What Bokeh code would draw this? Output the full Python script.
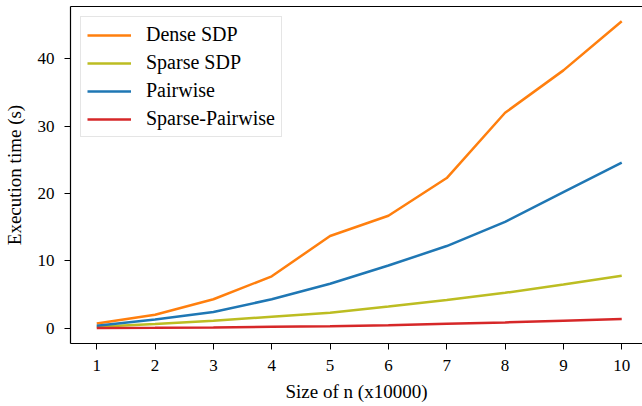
from bokeh.plotting import figure
from bokeh.models import Range1d, FixedTicker, LinearAxis, Legend, LegendItem
from bokeh.embed import file_html
from bokeh.resources import INLINE

sizes = [1, 2, 3, 4, 5, 6, 7, 8, 9, 10]
dense_sdp = [0.7, 2.0, 4.3, 7.7, 13.7, 16.7, 22.3, 32.0, 38.3, 45.6]
sparse_sdp = [0.2, 0.6, 1.1, 1.7, 2.3, 3.2, 4.2, 5.25, 6.5, 7.8]
pairwise = [0.35, 1.3, 2.4, 4.3, 6.6, 9.3, 12.2, 15.8, 20.2, 24.6]
sparse_pairwise = [0.02, 0.05, 0.1, 0.2, 0.3, 0.45, 0.65, 0.85, 1.1, 1.35]

series = [
    ("Dense SDP", dense_sdp, "#ff7f0e"),
    ("Sparse SDP", sparse_sdp, "#bcbd22"),
    ("Pairwise", pairwise, "#1f77b4"),
    ("Sparse-Pairwise", sparse_pairwise, "#d62728"),
]

FONT = "Liberation Serif"

p = figure(frame_width=572, frame_height=337, output_backend="svg", toolbar_location=None,
           x_range=Range1d(0.55, 10.356), y_range=Range1d(-2.28, 47.79),
           min_border_left=70, min_border_right=0, min_border_top=6, min_border_bottom=0)
p.outline_line_color = None
p.xgrid.visible = False
p.ygrid.visible = False

items = []
for name, vals, color in series:
    r = p.line(sizes, vals, line_color=color, line_width=2.5)
    items.append(LegendItem(label=name, renderers=[r]))

for ax in (p.xaxis[0], p.yaxis[0]):
    ax.axis_line_color = "black"
    ax.axis_line_width = 1.2
    ax.major_tick_line_color = "black"
    ax.major_tick_out = 6
    ax.major_tick_in = 0
    ax.minor_tick_line_color = None
    ax.major_label_text_font = FONT
    ax.major_label_text_font_size = "17px"
    ax.major_label_text_color = "black"
    ax.axis_label_text_font = FONT
    ax.axis_label_text_font_size = "19px"
    ax.axis_label_text_font_style = "normal"
    ax.axis_label_text_color = "black"

p.xaxis.ticker = FixedTicker(ticks=sizes)
p.yaxis.ticker = FixedTicker(ticks=[0, 10, 20, 30, 40])
p.xaxis.axis_label = "Size of n (x10000)"
p.yaxis.axis_label = "Execution time (s)"
p.xaxis.major_label_standoff = 10
p.xaxis.axis_label_standoff = 7
p.yaxis.major_label_standoff = 10
p.yaxis.axis_label_standoff = 10

top = LinearAxis(ticker=FixedTicker(ticks=[]), major_label_text_font_size="0px",
                 major_tick_out=0, major_tick_in=0, major_label_standoff=0,
                 axis_line_color="black", axis_line_width=1.2)
p.add_layout(top, "above")

legend = Legend(items=items, location="top_left")
legend.label_text_font = FONT
legend.label_text_font_size = "20px"
legend.label_text_color = "black"
legend.glyph_width = 44
legend.glyph_height = 20
legend.label_height = 20
legend.label_standoff = 15
legend.spacing = 5
legend.padding = 6
legend.margin = 10
legend.border_line_color = "#cccccc"
legend.border_line_width = 1
legend.background_fill_alpha = 0.8
p.add_layout(legend)

open("out.html", "w").write(file_html(p, INLINE))
